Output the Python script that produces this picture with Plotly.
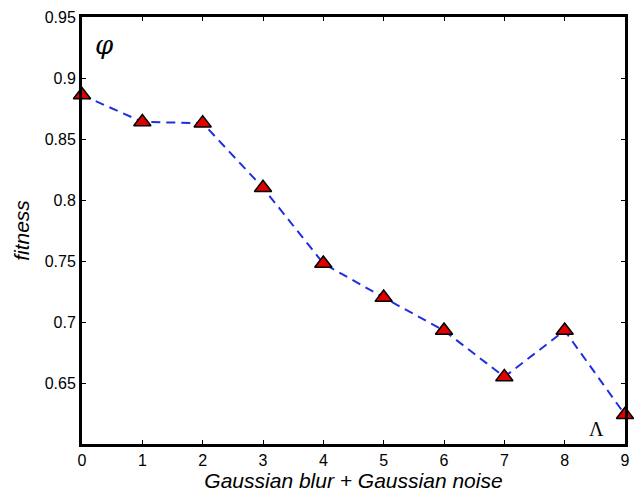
import plotly.graph_objects as go

x_vals = [0, 1, 2, 3, 4, 5, 6, 7, 8, 9]
fitness = [0.886, 0.864, 0.863, 0.810, 0.748, 0.720, 0.693, 0.655, 0.693, 0.624]
y_ticks = [0.65, 0.7, 0.75, 0.8, 0.85, 0.9, 0.95]
y_tick_labels = ["0.65", "0.7", "0.75", "0.8", "0.85", "0.9", "0.95"]

fig = go.Figure()
fig.add_trace(go.Scatter(
    x=x_vals, y=fitness, mode="lines+markers",
    line=dict(color="#1f2fe0", width=2, dash="9px,6px"),
    marker=dict(symbol="triangle-up", size=15, color="#e00000",
                line=dict(color="black", width=1.5)),
    cliponaxis=False, showlegend=False,
))

fig.add_annotation(x=0.18, y=0.927, xref="x", yref="y", text="<i>φ</i>", showarrow=False,
                   font=dict(family="DejaVu Serif", size=26, color="black"),
                   xanchor="left", yanchor="middle")
fig.add_annotation(x=8.52, y=0.612, xref="x", yref="y", text="Λ", showarrow=False,
                   font=dict(family="Liberation Serif", size=20, color="black"),
                   xanchor="center", yanchor="middle")

axis_common = dict(showline=True, linecolor="black", linewidth=3, mirror="ticks",
                   ticks="inside", ticklen=4, tickwidth=1, tickcolor="black",
                   showgrid=False, zeroline=False, automargin=False,
                   ticklabeloverflow="allow",
                   tickfont=dict(family="Liberation Sans, Arial", size=16, color="black"))

fig.update_xaxes(range=[0, 9], tickvals=x_vals, ticktext=[str(v) for v in x_vals],
                 title=dict(text="<i>Gaussian blur + Gaussian noise</i>", standoff=4,
                            font=dict(family="Liberation Sans, Arial", size=21, color="black")),
                 **axis_common)
fig.update_yaxes(range=[0.6, 0.95], tickvals=y_ticks, ticktext=y_tick_labels,
                 title=dict(text="<i>fitness</i>", standoff=10,
                            font=dict(family="Liberation Sans, Arial", size=21, color="black")),
                 **axis_common)

fig.update_layout(width=634, height=488, margin=dict(l=74, r=17, t=9, b=52),
                  plot_bgcolor="white", paper_bgcolor="white")

fig.write_html("out.html")
